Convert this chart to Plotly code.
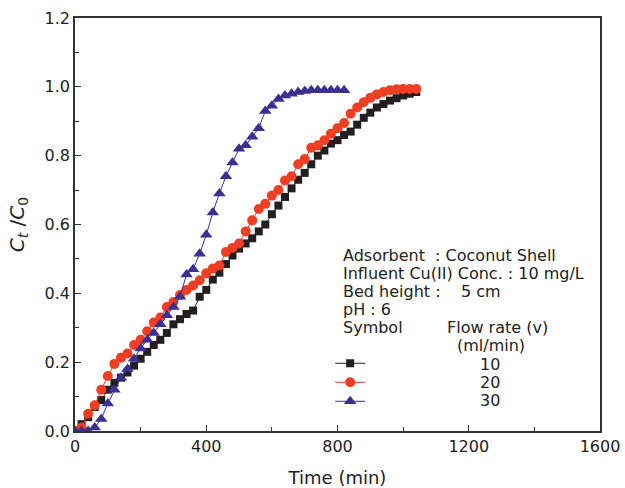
import plotly.graph_objects as go

# ---- data ----
t_10 = list(range(0, 1041, 20))
c_10 = [0.0, 0.02, 0.04, 0.07, 0.09, 0.12, 0.14, 0.155, 0.17, 0.19,
        0.21, 0.23, 0.25, 0.265, 0.285, 0.31, 0.325, 0.34, 0.35, 0.39,
        0.41, 0.44, 0.46, 0.485, 0.51, 0.53, 0.545, 0.56, 0.58, 0.60,
        0.63, 0.655, 0.68, 0.705, 0.73, 0.75, 0.775, 0.80, 0.815, 0.835,
        0.845, 0.86, 0.87, 0.89, 0.91, 0.925, 0.94, 0.95, 0.96, 0.967,
        0.975, 0.98, 0.985]

t_20 = list(range(0, 1041, 20))
c_20 = [0.0, 0.01, 0.05, 0.075, 0.12, 0.16, 0.195, 0.213, 0.225, 0.25,
        0.265, 0.29, 0.315, 0.33, 0.36, 0.375, 0.395, 0.41, 0.423, 0.438,
        0.458, 0.472, 0.481, 0.52, 0.532, 0.545, 0.58, 0.612, 0.645, 0.66,
        0.684, 0.70, 0.728, 0.74, 0.775, 0.79, 0.823, 0.83, 0.845, 0.864,
        0.88, 0.895, 0.922, 0.94, 0.955, 0.968, 0.978, 0.985, 0.99, 0.993,
        0.994, 0.994, 0.994]

t_30 = list(range(0, 821, 20))
c_30 = [0.0, 0.0, 0.0, 0.01, 0.035, 0.08, 0.12, 0.155, 0.18, 0.21,
        0.24, 0.265, 0.285, 0.31, 0.336, 0.36, 0.39, 0.455, 0.47, 0.515,
        0.57, 0.635, 0.69, 0.74, 0.78, 0.82, 0.83, 0.855, 0.88, 0.93,
        0.945, 0.965, 0.975, 0.98, 0.985, 0.988, 0.99, 0.99, 0.99, 0.99,
        0.99, 0.99]

flow_labels = ["10", "20", "30"]
x_ticks = [0, 400, 800, 1200, 1600]
y_ticks = [0.0, 0.2, 0.4, 0.6, 0.8, 1.0, 1.2]

info_lines = [
    "Adsorbent  : Coconut Shell",
    "Influent Cu(II) Conc. : 10 mg/L",
    "Bed height :    5 cm",
    "pH : 6",
]

FONT = "DejaVu Sans, Liberation Sans, sans-serif"
BLACK = "#231f20"
RED = "#ef3e23"
BLUE = "#3b2f91"
TXT = "#222"

NB = "\u00a0"

fig = go.Figure()
fig.add_trace(go.Scatter(x=t_10, y=c_10, mode="lines+markers", name=NB,
                         line=dict(color=BLACK, width=1),
                         marker=dict(symbol="square", size=8, color=BLACK)))
fig.add_trace(go.Scatter(x=t_20, y=c_20, mode="lines+markers", name=NB,
                         line=dict(color=RED, width=1),
                         marker=dict(symbol="circle", size=10, color=RED)))
fig.add_trace(go.Scatter(x=t_30, y=c_30, mode="lines+markers", name=NB,
                         line=dict(color=BLUE, width=1),
                         marker=dict(symbol="triangle-up", size=11, color=BLUE)))

axis_common = dict(showgrid=False, zeroline=False, showline=True, linecolor="#333",
                   linewidth=1.5, mirror=True, ticks="inside", ticklen=6, tickwidth=1.2,
                   tickcolor="#333", automargin=False,
                   tickfont=dict(family=FONT, size=16, color=TXT))

fig.update_xaxes(range=[0, 1600], tickvals=x_ticks, ticktext=[str(v) for v in x_ticks],
                 minor=dict(ticks="inside", ticklen=4, dtick=200, tickcolor="#333"),
                 title=dict(text="Time (min)", font=dict(family=FONT, size=18, color=TXT),
                            standoff=16),
                 **axis_common)
fig.update_yaxes(range=[0, 1.2], tickvals=y_ticks, ticktext=[f"{v:.1f}" for v in y_ticks],
                 minor=dict(ticks="inside", ticklen=4, dtick=0.1, tickcolor="#333"),
                 title=dict(text="<i>C</i><sub><i>t</i></sub> /<i>C</i><sub>0</sub>",
                            font=dict(family=FONT, size=20, color=TXT), standoff=15),
                 **axis_common)

ANN_SIZE = 16
annos = []
y0 = 0.426
dy = 0.044


def add_text(text, x, y, anchor="left"):
    annos.append(dict(text=text, xref="paper", yref="paper", x=x, y=y,
                      xanchor=anchor, yanchor="middle", showarrow=False,
                      font=dict(family=FONT, size=ANN_SIZE, color=TXT)))


for i, line in enumerate(info_lines):
    add_text(line, 0.507, y0 - i * dy)
add_text("Symbol", 0.507, y0 - 4 * dy)
add_text("Flow rate (v)", 0.705, y0 - 4 * dy)
add_text("(ml/min)", 0.724, y0 - 5 * dy)
for i, lab in enumerate(flow_labels):
    add_text(lab, 0.79, y0 - (6 + i) * dy, anchor="center")
fig.update_layout(annotations=annos)

fig.update_layout(
    width=625, height=488,
    margin=dict(l=75, r=25, t=18, b=57),
    paper_bgcolor="white", plot_bgcolor="white",
    showlegend=True,
    legend=dict(x=0.486, y=y0 - 7 * dy, xanchor="left", yanchor="middle",
                bgcolor="rgba(0,0,0,0)", font=dict(family=FONT, size=10, color=TXT),
                itemwidth=30, tracegroupgap=0),
    font=dict(family=FONT),
)

fig.write_html("out.html", config={"displayModeBar": False},
               post_script="document.body.style.margin='0';")
